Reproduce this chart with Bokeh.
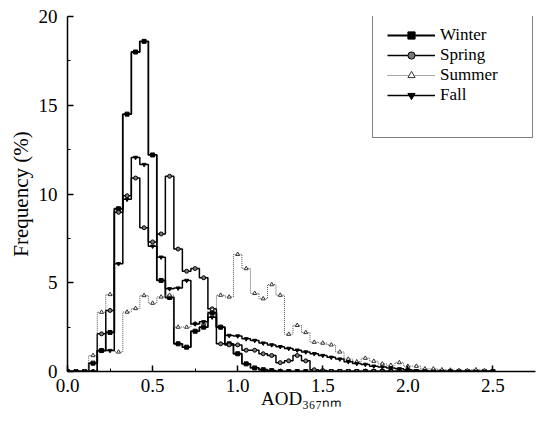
from bokeh.plotting import figure
from bokeh.models import Range1d, Legend, LegendItem, FixedTicker
from bokeh.embed import file_html
from bokeh.resources import INLINE

# bin centres (AOD at 367 nm)
aod = [0.00, 0.05, 0.10, 0.15, 0.20, 0.25, 0.30, 0.35, 0.40, 0.45,
       0.50, 0.55, 0.60, 0.65, 0.70, 0.75, 0.80, 0.85, 0.90, 0.95,
       1.00, 1.05, 1.10, 1.15, 1.20, 1.25, 1.30, 1.35, 1.40, 1.45,
       1.50, 1.55, 1.60, 1.65, 1.70, 1.75, 1.80, 1.85, 1.90, 1.95,
       2.00, 2.05, 2.10, 2.15, 2.20, 2.25, 2.30, 2.35, 2.40, 2.45, 2.50]

winter = [0, 0, 0, 0.47, 1.18, 2.2, 9.17, 14.5, 18.0, 18.6,
          12.2, 5.13, 4.17, 1.56, 1.37, 2.27, 2.5, 3.3, 2.5, 1.56,
          1.0, 0.43, 0.2, 0.1, 0.05, 0, 0, 0, 0, 0,
          0, 0, 0, 0, 0, 0, 0, 0, 0, 0,
          0, 0, 0, 0, 0, 0, 0, 0, 0, 0, 0]

spring = [0, 0, 0, 0, 2.12, 3.44, 8.97, 9.9, 10.9, 8.1,
          7.3, 7.75, 11.0, 6.9, 5.65, 5.8, 5.28, 3.53, 1.56, 1.5,
          1.5, 1.2, 1.2, 1.0, 0.9, 0.5, 0.6, 0.9, 0.6, 0.1,
          0.05, 0, 0, 0, 0, 0, 0, 0, 0, 0,
          0, 0, 0, 0, 0, 0, 0, 0, 0, 0, 0]

summer = [0, 0, 0, 0.9, 3.34, 4.34, 1.1, 3.35, 3.55, 4.28,
          3.85, 4.2, 4.3, 2.5, 2.5, 2.7, 2.7, 3.5, 4.3, 4.2,
          6.6, 5.8, 4.4, 4.1, 4.9, 4.3, 2.1, 2.6, 2.2, 1.65,
          1.6, 1.5, 1.1, 0.7, 0.55, 0.75, 0.58, 0.43, 0.35, 0.5,
          0.3, 0.3, 0.15, 0.15, 0.1, 0.08, 0.06, 0.06, 0.1, 0.06, 0]

fall = [0, 0, 0, 0, 1.18, 1.18, 6.07, 9.7, 12.06, 11.66,
        7.06, 6.44, 4.66, 4.7, 5.13, 2.68, 2.8, 3.06, 2.5, 2.03,
        2.0, 1.84, 1.75, 1.6, 1.5, 1.4, 1.3, 1.2, 1.1, 1.0,
        0.9, 0.8, 0.7, 0.55, 0.45, 0.4, 0.3, 0.25, 0.2, 0.15,
        0.1, 0.05, 0.03, 0, 0, 0, 0, 0, 0, 0, 0]

x_ticks = [0.0, 0.5, 1.0, 1.5, 2.0, 2.5]
y_ticks = [0, 5, 10, 15, 20]

FONT = "Liberation Serif"

p = figure(width=538, height=432, output_backend="svg", toolbar_location=None,
           x_range=Range1d(0, 2.75), y_range=Range1d(0, 20),
           min_border_left=67, min_border_right=3, min_border_top=16, min_border_bottom=61)
p.outline_line_color = None
p.grid.grid_line_color = None
p.background_fill_color = "white"

for ax in (p.xaxis[0], p.yaxis[0]):
    ax.axis_line_width = 1.5
    ax.axis_line_color = "black"
    ax.major_tick_in = 6
    ax.major_tick_out = 0
    ax.minor_tick_in = 3
    ax.minor_tick_out = 0
    ax.major_tick_line_width = 1.5
    ax.major_label_text_font = FONT
    ax.major_label_text_font_size = "19px"
    ax.major_label_text_color = "black"

p.xaxis[0].ticker = FixedTicker(ticks=x_ticks, minor_ticks=[0.25, 0.75, 1.25, 1.75, 2.25])
p.yaxis[0].ticker = FixedTicker(ticks=y_ticks, minor_ticks=[2.5, 7.5, 12.5, 17.5])
p.xaxis[0].major_label_overrides = {t: f"{t:.1f}" for t in x_ticks}
p.xaxis[0].major_label_standoff = 7
p.yaxis[0].major_label_standoff = 10

p.yaxis[0].axis_label = "Frequency (%)"
p.yaxis[0].axis_label_text_font = FONT
p.yaxis[0].axis_label_text_font_style = "normal"
p.yaxis[0].axis_label_text_font_size = "21px"
p.yaxis[0].axis_label_text_color = "black"
p.yaxis[0].axis_label_standoff = 3

p.xaxis[0].axis_label = "AOD\u2083\u2086\u2087\u2099\u2098"
p.xaxis[0].axis_label_text_font = FONT
p.xaxis[0].axis_label_text_font_style = "normal"
p.xaxis[0].axis_label_text_font_size = "19px"
p.xaxis[0].axis_label_text_color = "black"
p.xaxis[0].axis_label_standoff = -7

series = [
    ("Winter", winter, "square", "black", "black", 1.8, "solid", "black"),
    ("Spring", spring, "circle", "#777777", "black", 1.5, "solid", "black"),
    ("Summer", summer, "triangle", "white", "#333333", 1.0, "1 1", "#555555"),
    ("Fall", fall, "inverted_triangle", "black", "black", 1.5, "solid", "black"),
]

items = []
for name, vals, marker, fill, mline, lw, dash, lcol in series:
    r1 = p.step(aod, vals, mode="center", line_color=lcol, line_width=lw, line_dash=dash)
    r2 = p.scatter(aod, vals, marker=marker, size=4, fill_color=fill, line_color=mline, line_width=1)
    items.append(LegendItem(label=name, renderers=[r1, r2]))

# blank last row keeps the empty space at the bottom of the legend box
blank = p.line(aod[:2], [0, 0], line_alpha=0)
items.append(LegendItem(label=" ", renderers=[blank]))

legend = Legend(items=items, location=(305, 233))
legend.label_text_font = FONT
legend.label_text_font_size = "17px"
legend.label_text_color = "black"
legend.border_line_color = "black"
legend.border_line_width = 1
legend.glyph_width = 48
legend.glyph_height = 18
legend.label_height = 18
legend.label_width = 78
legend.spacing = 0
legend.padding = 14
legend.margin = 0
legend.label_standoff = 5
p.add_layout(legend, "center")

open("out.html", "w").write(file_html(p, INLINE))
